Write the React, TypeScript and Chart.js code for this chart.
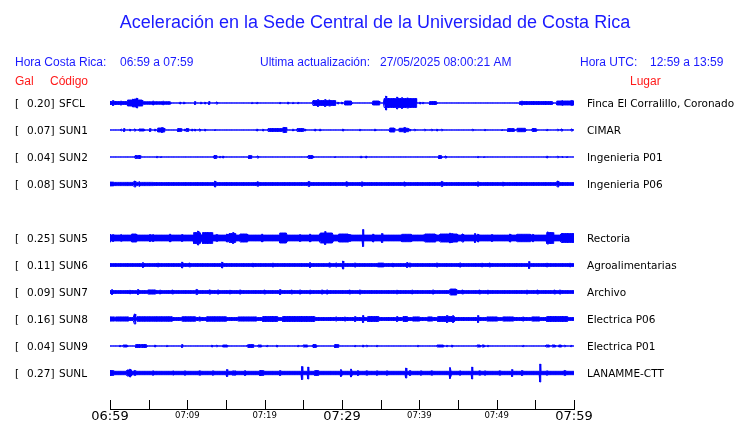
import { useEffect, useRef } from 'react';
import { Chart, registerables } from 'chart.js';

Chart.register(...registerables);

// ---------- text ----------
const TITLE = 'Aceleración en la Sede Central de la Universidad de Costa Rica';
const localLabel = 'Hora Costa Rica:';
const localRange = '06:59 a 07:59';
const updateLabel = 'Ultima actualización:';
const updateValue = '27/05/2025 08:00:21 AM';
const utcLabel = 'Hora UTC:';
const utcRange = '12:59 a 13:59';
const headGal = 'Gal';
const headCode = 'Código';
const headPlace = 'Lugar';

// ---------- stations ----------
const stationCodes = ['SFCL', 'SUN1', 'SUN2', 'SUN3', 'SUN5', 'SUN6', 'SUN7', 'SUN8', 'SUN9', 'SUNL'];
const peakGal = [0.2, 0.07, 0.04, 0.08, 0.25, 0.11, 0.09, 0.16, 0.04, 0.27];
const places = [
  'Finca El Corralillo, Coronado',
  'CIMAR',
  'Ingenieria P01',
  'Ingenieria P06',
  'Rectoria',
  'Agroalimentarias',
  'Archivo',
  'Electrica P06',
  'Electrica P01',
  'LANAMME-CTT',
];
// row of each trace (row 4 is empty)
const rowIndex = [0, 1, 2, 3, 5, 6, 7, 8, 9, 10];
// background half amplitude of each trace (trace units)
const baseAmp = [0.55, 0.55, 0.55, 1.9, 3.4, 1.9, 1.9, 2.0, 0.55, 2.2];

// ---------- time axis (minutes after 06:59) ----------
const axisMinutes = [0, 5, 10, 15, 20, 25, 30, 35, 40, 45, 50, 55, 60];
const axisLabels = ['06:59', '', '07:09', '', '07:19', '', '07:29', '', '07:39', '', '07:49', '', '07:59'];
const majorLabels = ['06:59', '07:29', '07:59'];

// ---------- wave events: [minute, half amplitude, duration(min)] ----------
type Ev = [number, number, number?];
const evSFCL: Ev[] = [[0.4,3],[1.4,2.5],[1.1,2,2.2],[3.2,3.5,1.9],[3.0,4.5],[3.5,5.5],[3.3,4.5,0.3],[6.0,1.8,3.7],[5.6,2.5],[6.9,2.3],[9.05,1.5],[9.6,1.5],[11.0,2],[11.8,1.5],[12.3,1.5],[12.8,2],[13.8,1.5],[18.4,1.2],[19.0,1.2],[22.0,1.2],[23.0,1.5],[23.7,1.2],[24.3,1.2],[27.7,3,2.9],[26.9,4],[27.8,4],[28.4,3.5],[29.5,1.5],[30.0,1.5],[30.8,2.5,0.9],[34.4,2.5,0.8],[35.9,5,0.9],[35.7,7.5],[38.0,5,3.2],[37.1,6.5],[37.8,6],[38.5,5.5],[40.1,1.5],[40.5,1.2],[41.8,2,0.9],[55.1,2,4.3],[53.3,2.5],[58.9,2.5,2.2],[58.5,3],[59.7,3]];
const evSUN1: Ev[] = [[1.5,1.5],[1.8,2],[2.6,1.5],[3.2,1.5],[3.8,1.5],[4.2,1.5,0.6],[5.2,2],[5.8,1.5],[6.6,2.5,0.8],[6.7,3],[9.0,2,0.5],[9.7,1.5],[10.0,2,0.3],[10.6,1.5],[11.0,1.5],[11.6,1.5],[12.3,1.5],[13.6,1],[19.0,1.5],[19.8,1.5],[21.4,2,1.9],[22.6,3,0.4],[23.7,1.5],[24.6,2,0.8],[25.2,1.5],[26.5,1.5],[27.2,1.5],[30.1,1.5],[32.3,1.2],[34.3,1.5],[36.5,2.5,0.6],[38.0,2.2,1.2],[38.1,3],[38.8,1.5],[39.4,1.2],[40.7,1.2],[41.6,1.2],[42.3,1.5],[42.9,1.2],[46.9,1.2],[48.5,1.2],[50.7,1],[51.9,2,0.9],[53.2,2.2,1.1],[54.9,2,0.6],[56.5,1.2],[57.9,1.2],[58.4,1.5],[59.7,1.5]];
const evSUN2: Ev[] = [[3.4,2,0.3],[3.8,2,0.3],[6.1,1.2],[6.6,1],[13.6,2,0.3],[14.2,1.2],[14.6,1.5],[18.1,2,0.4],[19.1,1.5],[25.9,2,0.5],[26.3,1.5],[29.1,1],[32.5,1.5],[33.1,1.5],[42.7,2,0.4],[43.4,1.5],[47.6,1.2],[48.4,1],[56.5,1.5],[57.9,1.2],[58.5,1.2],[59.1,1]];
const evSUN3: Ev[] = [[0.2,2.4,0.6],[2.8,2.1,5.6],[3.2,3.5],[3.8,3],[13.6,3.5],[19.1,2.7],[25.7,3],[30.6,2.7],[32.6,2.7],[38.1,2.5],[42.9,3],[47.6,2.7],[50.8,2.5],[57.9,3.5]];
const evSUN5: Ev[] = [[0,4.5],[0.4,4],[1.5,4],[3.1,4.5,0.6],[5.2,4],[5.6,4],[7.8,4.5],[9.3,4],[11.3,6,0.9],[11.4,7.5],[12.6,6,1.2],[13.8,4],[15.1,4.5],[15.9,6],[15.8,5,0.8],[17.3,4.5,0.9],[19.7,4.5],[22.4,5.5,0.9],[24.6,4],[25.9,4.5],[28.0,5.5,1.6],[27.8,7],[30.2,4.5,1.3],[31.0,4],[32.7,9],[34.0,4.5],[35.2,5],[38.4,4.2,1.3],[38.8,4],[40.7,4],[41.4,4.5,1.3],[43.8,4.5,2.2],[44.0,5.5],[44.2,5],[45.6,4.5],[47.2,5],[47.6,4.5],[49.4,4],[51.7,4.5],[53.5,4.2,1.7],[54.7,4.2],[56.9,6,0.9],[56.6,6.5],[59.2,5,1.7]];
const evSUN6: Ev[] = [[4.3,3],[6.2,2.4],[9.3,3.5],[10.3,2.4],[14.5,3.5],[18.5,2.4],[21.1,2.4],[25.9,3],[28.4,2.6],[29.3,2.6],[30.1,4.5],[31.7,2.6],[35.0,2.4,0.8],[36.6,2.4],[38.4,3],[38.8,2.6],[42.3,2.6],[45.3,2.6],[48.1,2.4],[49.1,2.4],[54.2,4],[56.5,2.4],[59.5,2.4]];
const evSUN7: Ev[] = [[0.3,3],[2.6,2.4],[3.6,3],[5.4,2.6,0.9],[6.5,2.4],[8.1,2.4],[11.2,3],[12.9,2.6],[14.0,2.6],[15.5,2.4],[16.8,2.6],[20.0,2.4],[22.0,3],[23.5,2.4],[24.6,2.6],[25.9,2.4],[27.4,2.6],[28.1,2.6],[31.0,2.4],[32.3,2.6],[37.1,2.4],[39.1,2.4],[41.8,2.6],[44.4,3.5,0.8],[45.6,2.4],[47.8,2.4],[48.9,2.4],[53.9,2.4],[55.3,2.4],[57.5,2.4],[58.2,2.6]];
const evSUN8: Ev[] = [[0.3,2.6,0.6],[1.6,2.6,1.7],[3.2,5.5],[5.8,2.8,4.6],[10.2,2.8,1.7],[11.6,2.6],[13.8,2.8,2.6],[16.8,2.6],[17.8,2.6,2.4],[20.7,3,1.9],[24.4,3,4.1],[29.3,2.6],[30.4,2.6],[31.7,3],[32.7,4],[34.0,3,1.4],[37.1,3],[38.2,3,0.6],[39.6,2.6,0.9],[41.4,2.6,0.6],[43.5,3,2.2],[43.6,4],[44.4,4],[47.6,4],[49.4,2.6,1.3],[51.5,2.6,1.3],[53.4,2.6],[55.1,2.6,1],[57.8,3,2.6]];
const evSUN9: Ev[] = [[1.3,1.2],[2.0,1.5,0.6],[3.6,2,0.6],[4.4,2,0.7],[5.8,1.5],[7.4,1.2],[9.3,2],[13.2,1.5],[13.8,1.2],[14.9,1.5,0.6],[17.8,1.5],[18.2,2,0.6],[19.4,1.5,0.5],[20.3,1.2],[21.6,1.5],[24.3,1.2],[25.3,1.5,0.6],[26.5,2,0.5],[29.3,2,0.5],[31.7,1.2],[32.7,1.5],[33.2,1.2],[34.5,1.2],[39.8,1.2],[42.7,1.5,0.8],[43.6,1.2],[44.2,1.5],[47.7,1.5,0.4],[48.3,1.5,0.3],[48.9,1.2],[53.4,1.2],[56.6,1.5,0.4],[57.4,1.5,0.4],[58.2,1.5,0.3],[58.8,1.2],[59.6,1.2]];
const evSUNL: Ev[] = [[0.2,3,0.4],[2.6,4.5],[2.5,3.5,0.6],[3.2,3],[5.6,2.7],[8.2,2.7],[9.7,2.7],[11.6,2.7],[13.3,2.7],[15.1,4],[15.9,2.7],[16.2,2.7],[17.5,3],[19.6,3,0.5],[22.0,3],[24.8,7],[25.6,6.5],[26.7,3,0.5],[29.9,4],[31.2,4.5],[32.1,3],[33.2,2.7],[34.5,2.7],[35.8,2.7],[38.3,5.5],[38.8,3],[40.2,2.7],[41.6,2.7],[44.0,6],[45.3,2.7],[46.8,6.5],[47.8,2.7],[48.5,2.7],[50.4,2.7],[52.0,4],[53.3,3],[55.6,9.5],[56.5,2.7],[58.8,3]];
const stationEvents = [evSFCL, evSUN1, evSUN2, evSUN3, evSUN5, evSUN6, evSUN7, evSUN8, evSUN9, evSUNL];

// ---------- layout / style constants ----------
const ROW_GAP = 27;
const STEP = 0.05;
const SPIKE_WIDTH = 0.12;
const TRACE_BLUE = '#0000ff';
const TEXT_BLUE = '#1a1aff';
const TEXT_RED = '#ff1a1a';

function buildEnvelope(base: number, events: Ev[]): number[] {
  const n = Math.round(60 / STEP);
  const amp = new Array(n + 1).fill(base);
  for (const [t, a, d = SPIKE_WIDTH] of events) {
    const i0 = Math.max(0, Math.ceil((t - d / 2) / STEP - 1e-9));
    const i1 = Math.min(n, Math.floor((t + d / 2) / STEP + 1e-9));
    for (let i = i0; i <= i1; i++) amp[i] = Math.max(amp[i], a);
  }
  return amp;
}

const overlayPlugin = {
  id: 'seismoOverlay',
  afterDraw(chart: any) {
    const { ctx, chartArea } = chart;
    const xs = chart.scales.x;
    const ys = chart.scales.y;
    ctx.save();
    // upward tick marks on the time axis
    ctx.strokeStyle = '#000';
    ctx.lineWidth = 1;
    for (const v of axisMinutes) {
      const px = Math.round(xs.getPixelForValue(v)) + 0.5;
      ctx.beginPath();
      ctx.moveTo(px, chartArea.bottom);
      ctx.lineTo(px, chartArea.bottom - 9);
      ctx.stroke();
    }
    ctx.textBaseline = 'alphabetic';
    // title
    ctx.fillStyle = TEXT_BLUE;
    ctx.font = '18px "Liberation Sans", Arial, sans-serif';
    ctx.textAlign = 'center';
    ctx.fillText(TITLE, 375, 28);
    // header line
    ctx.textAlign = 'left';
    ctx.font = '12px "Liberation Sans", Arial, sans-serif';
    ctx.fillText(localLabel, 15, 66);
    ctx.fillText(localRange, 120, 66);
    ctx.fillText(updateLabel, 260, 66);
    ctx.fillText(updateValue, 380, 66);
    ctx.fillText(utcLabel, 580, 66);
    ctx.fillText(utcRange, 650, 66);
    ctx.fillStyle = TEXT_RED;
    ctx.fillText(headGal, 15, 85);
    ctx.fillText(headCode, 50, 85);
    ctx.fillText(headPlace, 630, 85);
    // station labels
    ctx.fillStyle = '#000';
    ctx.font = '10.5px "DejaVu Sans", sans-serif';
    stationCodes.forEach((code, s) => {
      const py = ys.getPixelForValue(rowIndex[s] * ROW_GAP) + 4;
      ctx.fillText('[', 15, py);
      ctx.fillText(peakGal[s].toFixed(2) + ']', 27, py);
      ctx.fillText(code, 59, py);
      ctx.fillText(places[s], 587, py);
    });
    ctx.restore();
  },
};

export default function App() {
  const canvasRef = useRef<HTMLCanvasElement | null>(null);

  useEffect(() => {
    const canvas = canvasRef.current;
    if (!canvas) return;
    const datasets: any[] = [];
    stationCodes.forEach((code, s) => {
      const env = buildEnvelope(baseAmp[s], stationEvents[s]);
      const center = rowIndex[s] * ROW_GAP;
      const common = {
        borderColor: TRACE_BLUE,
        backgroundColor: TRACE_BLUE,
        borderWidth: 1,
        pointRadius: 0,
        tension: 0,
      };
      datasets.push({
        ...common,
        label: code + ' +',
        data: env.map((a, i) => ({ x: i * STEP, y: center - Math.max(a - 0.5, 0) })),
        fill: '+1',
      });
      datasets.push({
        ...common,
        label: code + ' -',
        data: env.map((a, i) => ({ x: i * STEP, y: center + Math.max(a - 0.5, 0) })),
        fill: false,
      });
    });

    const chart = new Chart(canvas, {
      type: 'line',
      data: { datasets },
      options: {
        animation: false,
        responsive: false,
        devicePixelRatio: 1,
        events: [],
        layout: { padding: { left: 110, right: 166, top: 88, bottom: 0 } },
        plugins: { legend: { display: false }, tooltip: { enabled: false }, title: { display: false } },
        scales: {
          x: {
            type: 'linear',
            min: 0,
            max: 60,
            afterBuildTicks: (scale: any) => {
              scale.ticks = axisMinutes.map((v) => ({ value: v }));
            },
            afterFit: (scale: any) => {
              scale.height = 14;
            },
            grid: { display: false, drawTicks: false },
            border: { display: true, color: '#000', width: 1 },
            ticks: {
              autoSkip: false,
              maxRotation: 0,
              padding: 1,
              color: '#000',
              callback: (_v: any, i: number) => axisLabels[i],
              font: (ctx: any) => {
                const lbl = axisLabels[ctx.index];
                return majorLabels.includes(lbl)
                  ? { family: '"DejaVu Sans", sans-serif', size: 13, lineHeight: 1 }
                  : { family: '"DejaVu Sans", sans-serif', size: 8.5, lineHeight: 1.25 };
              },
            },
          },
          y: {
            type: 'linear',
            display: false,
            reverse: true,
            min: -15,
            max: 306,
          },
        },
      } as any,
      plugins: [overlayPlugin],
    });
    return () => chart.destroy();
  }, []);

  return (
    <div style={{ position: 'absolute', left: 0, top: 0, width: 740, height: 423, background: '#fff' }}>
      <canvas ref={canvasRef} width={740} height={423} style={{ display: 'block' }} />
    </div>
  );
}
